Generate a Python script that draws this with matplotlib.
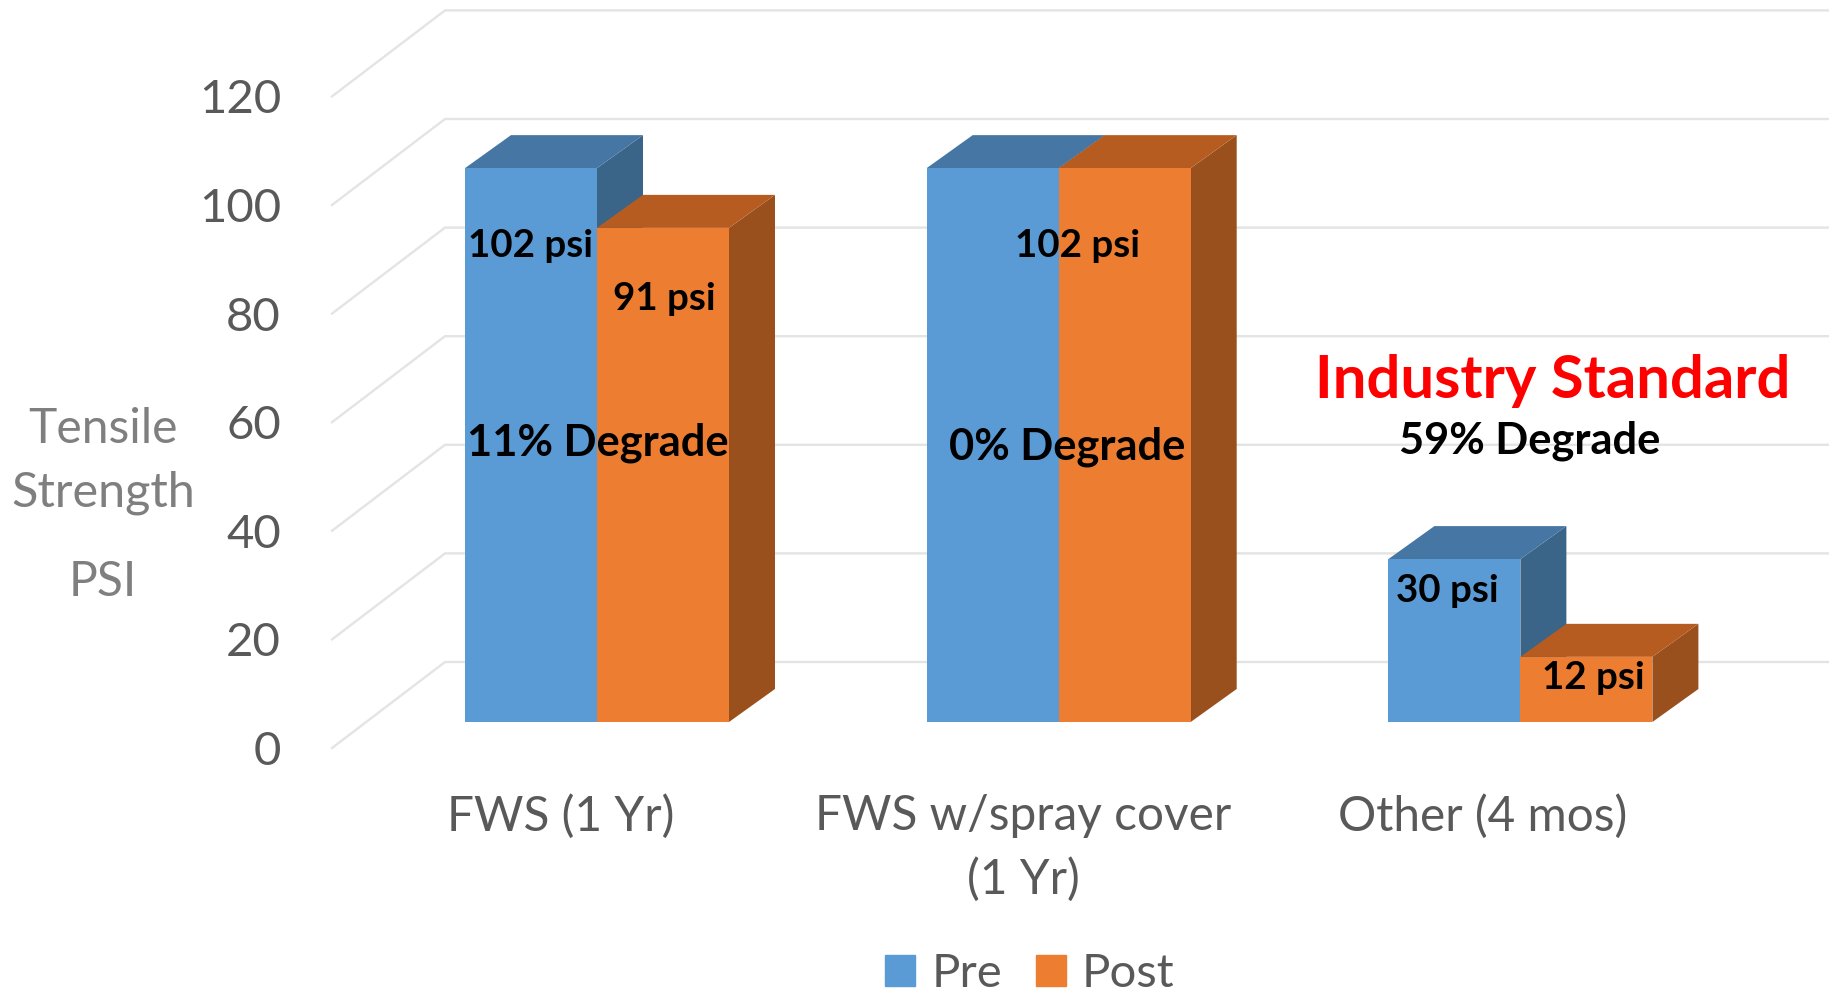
import matplotlib.pyplot as plt
import matplotlib.patches as mpatches

categories = ["FWS (1 Yr)", "FWS w/spray cover\n(1 Yr)", "Other (4 mos)"]
pre = [102, 102, 30]
post = [91, 102, 12]
yticks = [0, 20, 40, 60, 80, 100, 120]

W, H = 1829, 993
PX = 5.43      # pixels per psi
BASE = 722     # pixel row of the bar base
SPACING = 461.7  # pixels between groups
FIRST = 597    # pixel column of first group centre

BLUE, BLUE_TOP, BLUE_SIDE = "#5b9bd5", "#4676a3", "#3a6488"
ORANGE, ORANGE_TOP, ORANGE_SIDE = "#ed7d31", "#b65c20", "#99501c"
GRID = "#e4e4e4"
TICK = "#595959"

plt.rcParams['font.family'] = ['Lato', 'DejaVu Sans']

fig = plt.figure(figsize=(W/100, H/100), dpi=100)
ax = fig.add_axes([0, 0, 1, 1])
ax.set_xlim(-FIRST/SPACING, (W-FIRST)/SPACING)
ax.set_ylim((BASE-H)/PX, BASE/PX)
ax.axis("off")

bar_w = 132/SPACING
dx = 46/SPACING
dy = 33/PX

# back wall grid and the slanted lines towards the tick labels
wall_x0 = (332-FIRST)/SPACING
wall_x1 = (445-FIRST)/SPACING
wall_y0 = (BASE-748)/PX
wall_y1 = (BASE-662)/PX
for t in yticks:
    ax.plot([wall_x0, wall_x1, (W-FIRST)/SPACING], [wall_y0+t, wall_y1+t, wall_y1+t],
            color=GRID, lw=1.7, solid_joinstyle="miter", zorder=1)
    ax.text((281-FIRST)/SPACING, wall_y0+t-4/PX, str(t), ha="right", va="center",
            fontsize=34, color=TICK)


def box(left, v, front, top, side):
    ax.fill([left+bar_w, left+bar_w+dx, left+bar_w+dx, left+bar_w],
            [0, dy, v+dy, v], color=side, lw=0, zorder=2)
    ax.fill([left, left+dx, left+bar_w+dx, left+bar_w],
            [v, v+dy, v+dy, v], color=top, lw=0, zorder=2)
    ax.bar(left, v, bar_w, align="edge", color=front, lw=0, zorder=2)


for i in range(len(categories)):
    box(i-bar_w, pre[i], BLUE, BLUE_TOP, BLUE_SIDE)
    box(i, post[i], ORANGE, ORANGE_TOP, ORANGE_SIDE)


def label(x, y, s, **kw):
    fig.text(x/W, 1-y/H, s, ha="center", va="center", **kw)


# category labels
cat_x = [561, 1023, 1483]
for x, c in zip(cat_x, categories):
    fig.text(x/W, 1-794/H, c, ha="center", va="top", fontsize=34.4, color=TICK, linespacing=1.52)

# y axis title
label(103, 429, "Tensile", fontsize=34.6, color="#7f7f7f")
label(103, 493, "Strength", fontsize=35, color="#7f7f7f")
label(103, 582, "PSI", fontsize=34.6, color="#7f7f7f")

# annotations
bold = dict(fontweight="bold", color="black", fontsize=27.7)
label(531, 246, "102 psi", **bold)
label(664, 299, "91 psi", **bold)
label(1078, 246, "102 psi", **bold)
label(1447, 591, "30 psi", **bold)
label(1593, 678, "12 psi", **bold)
label(598, 443, "11% Degrade", fontweight="bold", color="black", fontsize=31.2)
label(1067, 447, "0% Degrade", fontweight="bold", color="black", fontsize=31.2)
label(1530, 441, "59% Degrade", fontweight="bold", color="black", fontsize=31.2)
label(1553, 381, "Industry Standard", fontweight="bold", color="#ff0000", fontsize=43)

handles = [mpatches.Patch(color=BLUE, label="Pre"), mpatches.Patch(color=ORANGE, label="Post")]
leg = fig.legend(handles=handles, loc="center", bbox_to_anchor=(1030/W, 1-974/H), ncol=2,
                 frameon=False, fontsize=34, handlelength=0.635, handleheight=0.635,
                 handletextpad=0.35, columnspacing=0.7, labelcolor=TICK)

fig.savefig("out.png", dpi=100)
